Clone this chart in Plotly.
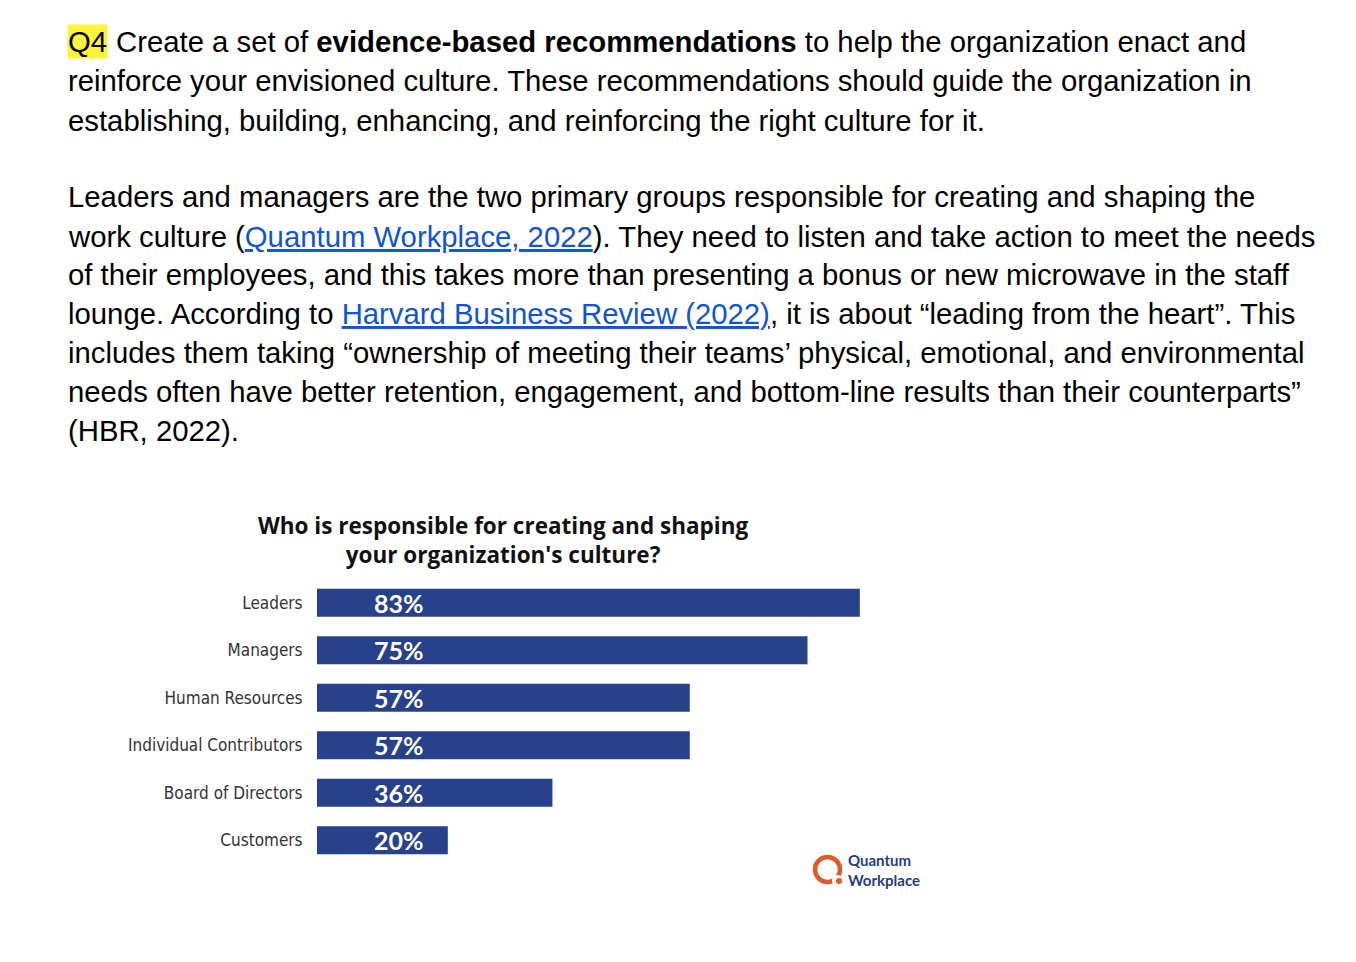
import plotly.graph_objects as go

W, H = 1356, 962
PAGE_OFFSET = 8   # browser body margin pushes the figure by 8px

# ── Data ──────────────────────────────────────────────────────
categories = ["Leaders", "Managers", "Human Resources",
              "Individual Contributors", "Board of Directors", "Customers"]
values     = [83, 75, 57, 57, 36, 20]
labels     = ["83%", "75%", "57%", "57%", "36%", "20%"]

chart_title = ["Who is responsible for creating and shaping",
               "your organization's culture?"]

LINK = "<span style='color:#1155CC'><u>{}</u></span>"
body_lines = [
    "Create a set of <b>evidence-based recommendations</b> to help the organization enact and",
    "reinforce your envisioned culture. These recommendations should guide the organization in",
    "establishing, building, enhancing, and reinforcing the right culture for it.",
    "Leaders and managers are the two primary groups responsible for creating and shaping the",
    "work culture (" + LINK.format("Quantum Workplace, 2022") + "). They need to listen and take action to meet the needs",
    "of their employees, and this takes more than presenting a bonus or new microwave in the staff",
    "lounge. According to " + LINK.format("Harvard Business Review (2022)") + ", it is about “leading from the heart”. This",
    "includes them taking “ownership of meeting their teams’ physical, emotional, and environmental",
    "needs often have better retention, engagement, and bottom-line results than their counterparts”",
    "(HBR, 2022).",
]
body_y = [42, 81, 120, 197, 236, 275, 314, 352, 391, 430]

# ── Layout helpers (pixel -> paper) ───────────────────────────
def px(x):
    return (x - PAGE_OFFSET) / W

def py(y):
    return 1 - (y - PAGE_OFFSET) / H

BAR_COLOR  = "#27418A"
TEXT_FONT  = "Liberation Sans, Arial, sans-serif"
CHART_FONT = "Lato, Open Sans, sans-serif"
TITLE_FONT = "Open Sans, Lato, sans-serif"
LABEL_X    = 8.4   # where the % labels sit inside the bars
BODY_SIZE  = 29.3

fig = go.Figure()
fig.add_trace(go.Bar(
    x=values, y=categories, orientation="h",
    marker=dict(color=BAR_COLOR, line=dict(width=0)),
    hoverinfo="skip", showlegend=False,
))

annotations = []
# Q4 highlighted tag
annotations.append(dict(
    text="Q4", x=px(67), y=py(body_y[0]), xref="paper", yref="paper",
    xanchor="left", yanchor="middle", showarrow=False, bgcolor="#FFF33B",
    borderpad=0, font=dict(family=TEXT_FONT, size=BODY_SIZE, color="black"),
))
for i, (line, yy) in enumerate(zip(body_lines, body_y)):
    x0 = 114 if i == 0 else 66
    annotations.append(dict(
        text=line, x=px(x0), y=py(yy), xref="paper", yref="paper",
        xanchor="left", yanchor="middle", showarrow=False,
        font=dict(family=TEXT_FONT, size=BODY_SIZE, color="black"),
    ))

# chart title (one block, centred)
annotations.append(dict(
    text="<br>".join("<b>" + t + "</b>" for t in chart_title),
    x=px(503), y=py(540), xref="paper", yref="paper",
    xanchor="center", yanchor="middle", showarrow=False, align="center",
    font=dict(family=TITLE_FONT, size=22.5, color="#111111"),
))

for cat, lab in zip(categories, labels):
    annotations.append(dict(
        text="<b>" + lab + "</b>", x=LABEL_X, y=cat, xref="x", yref="y",
        xanchor="left", yanchor="middle", showarrow=False,
        font=dict(family=CHART_FONT, size=25, color="white"),
    ))

# logo text
annotations.append(dict(
    text="<b>Quantum</b><br><b>Workplace</b>", x=px(846), y=py(870),
    xref="paper", yref="paper", xanchor="left", yanchor="middle",
    showarrow=False, align="left",
    font=dict(family=CHART_FONT, size=15, color="#26407A"),
))

shapes = [
    dict(type="circle", xref="paper", yref="paper",
         x0=px(815), x1=px(840), y0=py(882), y1=py(857),
         line=dict(color="#E0592A", width=4.5), fillcolor="white"),
    dict(type="circle", xref="paper", yref="paper",
         x0=px(832), x1=px(843), y0=py(886), y1=py(875),
         line=dict(color="white", width=0), fillcolor="white"),
    dict(type="circle", xref="paper", yref="paper",
         x0=px(836), x1=px(842), y0=py(884), y1=py(878),
         line=dict(width=0), fillcolor="#E0592A"),
]

fig.update_layout(
    width=W, height=H,
    margin=dict(l=0, r=0, t=0, b=0),
    paper_bgcolor="white", plot_bgcolor="white",
    bargap=0.41,
    xaxis=dict(domain=[px(317), px(317 + 654)], range=[0, 100],
               visible=False, fixedrange=True),
    yaxis=dict(domain=[py(864), py(579)], range=[5.5, -0.5],
               showgrid=False, zeroline=False, showline=False,
               ticks="outside", ticklen=10, tickcolor="rgba(0,0,0,0)",
               tickfont=dict(family="Liberation Sans Narrow, DejaVu Sans Condensed, Roboto, sans-serif",
                             size=17, color="#333333")),
    annotations=annotations,
    shapes=shapes,
)

fig.write_html("out.html")
